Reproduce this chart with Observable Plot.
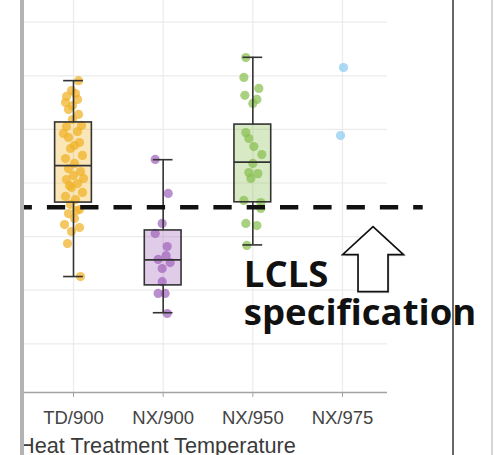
<!DOCTYPE html>
<html><head><meta charset="utf-8">
<script src="https://cdn.jsdelivr.net/npm/d3@7"></script>
<script src="https://cdn.jsdelivr.net/npm/@observablehq/plot@0.6"></script>
<style>
body{margin:0;background:#fff}
#wrap{position:relative;width:494px;height:455px;overflow:hidden;background:#fff}
#wrap svg{position:absolute;left:0;top:0}
.edge{position:absolute;top:0;height:455px}
</style></head><body>
<div id="wrap"></div>
<script>
// ---- data ----
const categories = ["TD/900", "NX/900", "NX/950", "NX/975"];
const colors = ["#f0b225", "#a064bb", "#88bf4f", "#8ccbee"];
const yGridValues = [16, 18, 20, 22, 24, 26, 28];
const specValue = 21.1;

// box statistics per category (NX/975 has no box)
const whiskerLow  = [18.51, 17.16, 19.69, null];
const quartile1   = [21.27, 18.18, 21.28, null];
const medians     = [22.65, 19.13, 22.78, null];
const quartile3   = [24.26, 20.23, 24.18, null];
const whiskerHigh = [25.82, 22.87, 26.69, null];

// individual samples: value and horizontal jitter (in category widths)
const td900Values = [25.82,25.45,25.34,25.23,25.12,25.00,24.89,24.74,24.56,24.37,24.11,23.92,23.70,23.51,23.29,23.03,22.91,22.73,22.54,22.43,22.28,22.13,21.98,21.83,21.65,21.50,21.38,21.20,21.01,20.86,20.68,20.45,20.34,20.19,19.74,18.51,23.85,24.15,23.40,21.91,22.17,20.97];
const td900Jitter = [0.056,-0.022,0.022,-0.078,0.045,-0.089,-0.011,-0.056,0.056,-0.011,-0.078,0.045,-0.056,0.067,-0.033,0.100,-0.089,0.011,-0.056,0.078,0,-0.078,0.045,-0.022,0.100,-0.089,0.022,-0.033,0.067,-0.056,0.011,-0.100,0.067,-0.022,-0.067,0.078,-0.112,0.089,0.011,-0.045,0.112,0.033];
const nx900Values = [22.88,21.61,20.49,20.12,19.63,19.15,19.03,18.81,18.32,17.88,17.88,17.13,19.29];
const nx900Jitter = [-0.089,0.056,-0.011,-0.089,0.045,-0.056,0.078,-0.011,-0.011,-0.056,0.022,0.045,0.033];
const nx950Values = [26.68,25.94,25.53,25.27,25.12,24.97,23.88,23.66,23.36,23.06,22.73,22.39,22.35,22.17,21.35,21.27,21.05,20.49,20.41,19.67];
const nx950Jitter = [-0.078,-0.100,0.067,-0.089,0.045,0,-0.078,-0.045,0.011,0.100,0,-0.045,0.056,-0.022,-0.100,0.089,0.089,-0.078,0.045,-0.067];
const nx975Values = [26.31, 23.77];
const nx975Jitter = [0.011, -0.022];

const specLabel = "LCLS\nspecification";
const axisTitle = "Heat Treatment Temperature";

// ---- tables built from the arrays ----
const groups = [[td900Values, td900Jitter], [nx900Values, nx900Jitter], [nx950Values, nx950Jitter], [nx975Values, nx975Jitter]];
const points = groups.flatMap(([vals, jit], i) => vals.map((v, k) => ({i, value: v, jitter: jit[k]})));
const boxes = categories.map((c, i) => ({i, lo: whiskerLow[i], q1: quartile1[i], med: medians[i], q3: quartile3[i], hi: whiskerHigh[i]})).filter(d => d.q1 != null);

// ---- layout / style constants ----
const BOX_HALF = 0.205, CAP_HALF = 0.11;
const SPEC_FROM = -0.57, SPEC_TO = 3.9;
const LABEL_X = 1.90, LABEL_Y = 19.12;
const ARROW_X = 3.346, ARROW_Y = 19.14;
const arrowSvg = `<svg xmlns="http://www.w3.org/2000/svg" width="66" height="71" viewBox="0 0 66 71">
<path d="M34 4 L64 32 L49 32 L49 69 L19 69 L19 32 L4 32 Z" fill="#999" opacity="0.35"/>
<path d="M32.5 2.5 L63 30.5 L47.5 30.5 L47.5 67.5 L17.5 67.5 L17.5 30.5 L2 30.5 Z" fill="#fff" stroke="#111" stroke-width="1.7" stroke-linejoin="miter"/></svg>`;
const arrowSrc = "data:image/svg+xml;charset=utf-8," + encodeURIComponent(arrowSvg);
const ink = "#333";

const plot = Plot.plot({
  width: 494, height: 455,
  marginLeft: 22, marginRight: 107, marginTop: 0, marginBottom: 63,
  style: {fontFamily: "'Liberation Sans', Arial, sans-serif", background: "transparent"},
  x: {type: "linear", domain: [0, 3], range: [73, 342]},
  y: {domain: [14.183, 28.81], axis: null},
  marks: [
    Plot.ruleY(yGridValues, {stroke: "#ebebeb", strokeWidth: 1.2}),
    Plot.ruleX(categories.map((c, i) => i), {stroke: "#ebebeb", strokeWidth: 1.2}),
    Plot.rect(boxes, {x1: d => d.i - BOX_HALF, x2: d => d.i + BOX_HALF, y1: "q1", y2: "q3", fill: d => colors[d.i], fillOpacity: 0.33}),
    Plot.dot(points, {x: d => d.i + d.jitter, y: "value", r: 4.6, fill: d => colors[d.i], fillOpacity: 0.72, stroke: "none"}),
    Plot.ruleX(boxes, {x: "i", y1: "q3", y2: "hi", stroke: ink, strokeWidth: 1.6}),
    Plot.ruleX(boxes, {x: "i", y1: "lo", y2: "q1", stroke: ink, strokeWidth: 1.6}),
    Plot.ruleY(boxes, {y: "hi", x1: d => d.i - CAP_HALF, x2: d => d.i + CAP_HALF, stroke: ink, strokeWidth: 1.6}),
    Plot.ruleY(boxes, {y: "lo", x1: d => d.i - CAP_HALF, x2: d => d.i + CAP_HALF, stroke: ink, strokeWidth: 1.6}),
    Plot.rect(boxes, {x1: d => d.i - BOX_HALF, x2: d => d.i + BOX_HALF, y1: "q1", y2: "q3", fill: "none", stroke: ink, strokeWidth: 1.6}),
    Plot.ruleY(boxes, {y: "med", x1: d => d.i - BOX_HALF, x2: d => d.i + BOX_HALF, stroke: ink, strokeWidth: 1.6}),
    Plot.ruleY([14.183], {stroke: "#a3a3a3", strokeWidth: 1.6}),
    Plot.axisX(categories.map((c, i) => i), {tickFormat: () => "", tickSize: 5, stroke: "#a3a3a3", label: null}),
    Plot.axisX(categories.map((c, i) => i), {tickFormat: i => categories[i], tickSize: 0, tickPadding: 18, fontSize: 18.5, fill: "#444", label: null}),
    Plot.ruleY([specValue], {x1: SPEC_FROM, x2: SPEC_TO, stroke: "#111", strokeWidth: 4.5, strokeDasharray: "18.3,15", strokeDashoffset: 8.3}),
    Plot.text([specLabel], {x: LABEL_X, y: LABEL_Y, text: d => d, textAnchor: "start", lineAnchor: "top", lineHeight: 1.04, fontFamily: "'Open Sans', sans-serif", fontWeight: 700, fontSize: 36.5, fill: "#111"}),
    Plot.image([arrowSrc], {x: ARROW_X, y: ARROW_Y, src: d => d, width: 66, height: 71}),
    Plot.text([axisTitle], {frameAnchor: "bottom-left", text: d => d, dx: -3.5, dy: 45.5, textAnchor: "start", lineAnchor: "top", fontSize: 21.7, fill: "#3a3a3a"})
  ]
});
const wrap = document.getElementById("wrap");
wrap.appendChild(plot);
for (const [left, w, bg] of [[20, 4, "#b3b3b3"], [452, 2, "#686868"], [491, 1.5, "#d6d6d6"]]) {
  const e = document.createElement("div");
  e.className = "edge";
  e.style.left = left + "px"; e.style.width = w + "px"; e.style.background = bg;
  wrap.appendChild(e);
}
</script>
</body></html>
